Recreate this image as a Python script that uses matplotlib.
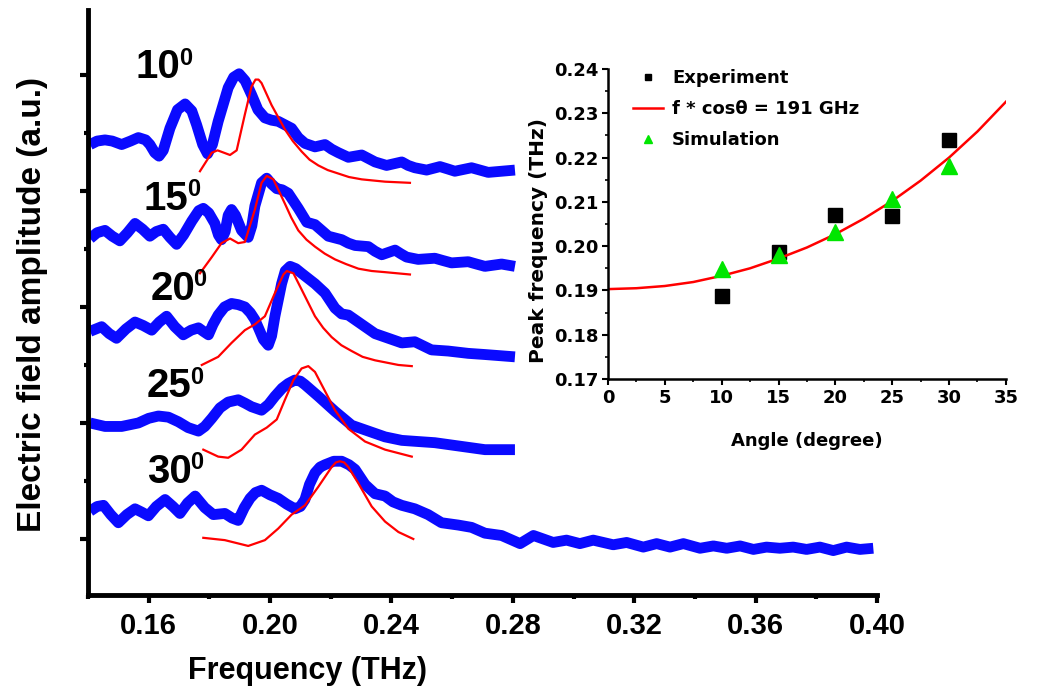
import matplotlib
matplotlib.use("Agg")
import matplotlib.pyplot as plt
from matplotlib.ticker import MultipleLocator, FormatStrFormatter

plt.rcParams['font.family'] = ['Liberation Sans', 'DejaVu Sans']

##################################### measured spectra (frequency in THz, amplitude in a.u. incl. offset)
f10 = [0.1407, 0.1430, 0.1456, 0.1480, 0.1511, 0.1540, 0.1566, 0.1590, 0.1604, 0.1620, 0.1634,
       0.1648, 0.1670, 0.1695, 0.1720, 0.1742, 0.1758, 0.1778, 0.1794, 0.1810, 0.1829, 0.1862,
       0.1880, 0.1898, 0.1918, 0.1939, 0.1960, 0.1983, 0.2005, 0.2027, 0.2049, 0.2071, 0.2093,
       0.2115, 0.2148, 0.2181, 0.2203, 0.2225, 0.2258, 0.2302, 0.2324, 0.2346, 0.2384, 0.2434,
       0.2455, 0.2477, 0.2516, 0.2560, 0.2585, 0.2609, 0.2664, 0.2719, 0.2807]
a10 = [4.40, 4.43, 4.44, 4.43, 4.40, 4.43, 4.46, 4.44, 4.40, 4.33, 4.30,
       4.35, 4.54, 4.70, 4.75, 4.69, 4.57, 4.40, 4.32, 4.40, 4.60, 4.89,
       4.98, 5.01, 4.95, 4.83, 4.70, 4.63, 4.61, 4.60, 4.57, 4.54, 4.46,
       4.41, 4.38, 4.40, 4.36, 4.33, 4.29, 4.31, 4.28, 4.25, 4.22, 4.25,
       4.22, 4.20, 4.18, 4.21, 4.19, 4.17, 4.20, 4.16, 4.18]

f15 = [0.1407, 0.1430, 0.1456, 0.1480, 0.1505, 0.1530, 0.1555, 0.1580, 0.1604, 0.1625, 0.1648,
       0.1670, 0.1692, 0.1715, 0.1742, 0.1765, 0.1780, 0.1798, 0.1818, 0.1830, 0.1840, 0.1852,
       0.1862, 0.1873, 0.1886, 0.1906, 0.1928, 0.1940, 0.1950, 0.1972, 0.1989, 0.2005, 0.2022,
       0.2040, 0.2060, 0.2093, 0.2121, 0.2148, 0.2170, 0.2192, 0.2236, 0.2258, 0.2280, 0.2324,
       0.2346, 0.2368, 0.2412, 0.2430, 0.2450, 0.2488, 0.2543, 0.2570, 0.2598, 0.2653, 0.2680,
       0.2708, 0.2763, 0.2807]
a15 = [3.59, 3.64, 3.66, 3.61, 3.57, 3.64, 3.72, 3.67, 3.61, 3.65, 3.67,
       3.60, 3.54, 3.62, 3.74, 3.83, 3.85, 3.81, 3.72, 3.62, 3.58, 3.65,
       3.79, 3.84, 3.79, 3.66, 3.60, 3.70, 3.87, 4.07, 4.11, 4.06, 4.02,
       4.01, 3.98, 3.85, 3.73, 3.71, 3.66, 3.61, 3.58, 3.55, 3.53, 3.52,
       3.48, 3.45, 3.49, 3.46, 3.43, 3.41, 3.42, 3.40, 3.38, 3.39, 3.37,
       3.35, 3.37, 3.35]

f20 = [0.1407, 0.1445, 0.1470, 0.1494, 0.1525, 0.1555, 0.1582, 0.1610, 0.1635, 0.1659, 0.1686,
       0.1714, 0.1740, 0.1764, 0.1780, 0.1797, 0.1812, 0.1829, 0.1850, 0.1873, 0.1895, 0.1917,
       0.1935, 0.1950, 0.1965, 0.1978, 0.1994, 0.2005, 0.2016, 0.2038, 0.2050, 0.2066, 0.2085,
       0.2104, 0.2148, 0.2181, 0.2214, 0.2236, 0.2258, 0.2302, 0.2346, 0.2390, 0.2434, 0.2477,
       0.2532, 0.2587, 0.2653, 0.2708, 0.2807]
a20 = [2.79, 2.83, 2.77, 2.73, 2.81, 2.87, 2.84, 2.80, 2.87, 2.92, 2.83,
       2.76, 2.80, 2.82, 2.79, 2.76, 2.85, 2.93, 3.00, 3.03, 3.02, 3.00,
       2.95, 2.89, 2.80, 2.72, 2.67, 2.75, 2.92, 3.20, 3.31, 3.35, 3.33,
       3.29, 3.20, 3.12, 2.99, 2.94, 2.93, 2.85, 2.77, 2.73, 2.69, 2.70,
       2.63, 2.62, 2.60, 2.59, 2.57]

f25 = [0.1407, 0.1456, 0.1511, 0.1566, 0.1600, 0.1632, 0.1665, 0.1698, 0.1730, 0.1764, 0.1785,
       0.1808, 0.1835, 0.1862, 0.1895, 0.1918, 0.1939, 0.1972, 0.1995, 0.2016, 0.2040, 0.2060,
       0.2082, 0.2100, 0.2115, 0.2159, 0.2214, 0.2269, 0.2324, 0.2379, 0.2434, 0.2488, 0.2543,
       0.2598, 0.2653, 0.2708, 0.2807]
a25 = [2.00, 1.97, 1.97, 2.00, 2.04, 2.06, 2.05, 2.01, 1.96, 1.93, 1.97,
       2.04, 2.13, 2.18, 2.20, 2.17, 2.14, 2.11, 2.16, 2.23, 2.30, 2.34,
       2.37, 2.36, 2.33, 2.23, 2.10, 1.98, 1.93, 1.88, 1.85, 1.84, 1.83,
       1.81, 1.79, 1.77, 1.77]

f30 = [0.1407, 0.1430, 0.1451, 0.1475, 0.1500, 0.1528, 0.1555, 0.1578, 0.1599, 0.1625, 0.1654,
       0.1680, 0.1703, 0.1728, 0.1753, 0.1785, 0.1813, 0.1851, 0.1875, 0.1895, 0.1915, 0.1934,
       0.1952, 0.1972, 0.2000, 0.2027, 0.2055, 0.2082, 0.2100, 0.2115, 0.2130, 0.2148, 0.2165,
       0.2181, 0.2210, 0.2236, 0.2260, 0.2280, 0.2313, 0.2346, 0.2379, 0.2405, 0.2434, 0.2477,
       0.2521, 0.2565, 0.2620, 0.2664, 0.2708, 0.2763,
       0.2824, 0.2868, 0.2933, 0.2977, 0.3021, 0.3065, 0.3131, 0.3175, 0.3230, 0.3274, 0.3318,
       0.3362, 0.3417, 0.3461, 0.3505, 0.3549, 0.3593, 0.3636, 0.3680, 0.3724, 0.3768, 0.3812,
       0.3856, 0.3900, 0.3944, 0.3988]
a30 = [1.24, 1.28, 1.29, 1.21, 1.14, 1.21, 1.26, 1.23, 1.20, 1.28, 1.34,
       1.28, 1.22, 1.31, 1.37, 1.27, 1.21, 1.22, 1.18, 1.16, 1.27, 1.35,
       1.40, 1.42, 1.38, 1.35, 1.30, 1.26, 1.28, 1.34, 1.47, 1.57, 1.62,
       1.64, 1.67, 1.67, 1.64, 1.60, 1.47, 1.39, 1.37, 1.32, 1.29, 1.26,
       1.21, 1.14, 1.12, 1.10, 1.05, 1.03,
       0.96, 1.03, 0.97, 0.99, 0.96, 0.99, 0.95, 0.97, 0.93, 0.96, 0.93,
       0.96, 0.92, 0.94, 0.92, 0.94, 0.91, 0.93, 0.92, 0.93, 0.91, 0.93,
       0.90, 0.93, 0.91, 0.92]

##################################### simulated spectra (red)
fr10 = [0.1769, 0.1808, 0.1827, 0.1868, 0.1890, 0.1917, 0.1939, 0.1952, 0.1962, 0.1972, 0.2005,
        0.2049, 0.2075, 0.2104, 0.2130, 0.2159, 0.2190, 0.2225, 0.2260, 0.2302, 0.2340, 0.2379,
        0.2461]
ar10 = [4.17, 4.33, 4.35, 4.31, 4.35, 4.66, 4.90, 4.96, 4.96, 4.93, 4.74,
        4.53, 4.43, 4.34, 4.27, 4.22, 4.18, 4.15, 4.12, 4.10, 4.09, 4.08,
        4.07]
fr15 = [0.1769, 0.1808, 0.1840, 0.1868, 0.1895, 0.1917, 0.1950, 0.1972, 0.1989, 0.2011, 0.2049,
        0.2070, 0.2093, 0.2120, 0.2148, 0.2180, 0.2214, 0.2250, 0.2291, 0.2335, 0.2379, 0.2461]
ar15 = [3.29, 3.43, 3.55, 3.59, 3.55, 3.56, 3.84, 4.07, 4.13, 4.10, 3.89,
        3.77, 3.66, 3.58, 3.52, 3.46, 3.41, 3.37, 3.33, 3.31, 3.30, 3.28]
fr20 = [0.1775, 0.1829, 0.1873, 0.1917, 0.1950, 0.1983, 0.2016, 0.2044, 0.2055, 0.2077, 0.2104,
        0.2148, 0.2175, 0.2203, 0.2235, 0.2269, 0.2305, 0.2346, 0.2423, 0.2467]
ar20 = [2.50, 2.57, 2.69, 2.80, 2.85, 2.92, 3.12, 3.28, 3.31, 3.29, 3.15,
        2.92, 2.82, 2.74, 2.67, 2.62, 2.57, 2.54, 2.50, 2.49]
fr25 = [0.1780, 0.1829, 0.1862, 0.1906, 0.1950, 0.1989, 0.2022, 0.2049, 0.2077, 0.2104, 0.2126,
        0.2148, 0.2176, 0.2214, 0.2258, 0.2313, 0.2379, 0.2467]
ar25 = [1.77, 1.71, 1.70, 1.77, 1.90, 1.96, 2.03, 2.20, 2.37, 2.47, 2.49,
        2.44, 2.30, 2.11, 1.95, 1.84, 1.77, 1.71]
fr30 = [0.1780, 0.1851, 0.1928, 0.1983, 0.2027, 0.2071, 0.2115, 0.2159, 0.2203, 0.2217, 0.2230,
        0.2244, 0.2258, 0.2291, 0.2335, 0.2379, 0.2423, 0.2472]
ar30 = [1.01, 0.99, 0.94, 0.99, 1.09, 1.21, 1.29, 1.45, 1.62, 1.66, 1.67,
        1.66, 1.62, 1.48, 1.28, 1.15, 1.06, 1.00]

angle_labels = ['10', '15', '20', '25', '30']
label_f = [0.1558, 0.1584, 0.1606, 0.1594, 0.1594]
label_a = [4.97, 3.84, 3.06, 2.22, 1.48]

##################################### inset data
angle = [10, 15, 20, 25, 30]
exp_peak = [0.1887, 0.1987, 0.2071, 0.2067, 0.2239]
sim_peak = [0.1948, 0.1981, 0.2031, 0.2106, 0.2180]
fit_angle = [0, 2.5, 5, 7.5, 10, 12.5, 15, 17.5, 20, 22.5, 25, 27.5, 30, 32.5, 35]
fit_freq = [0.1903, 0.1905, 0.1910, 0.1919, 0.1933, 0.1950, 0.1972, 0.1997, 0.2027, 0.2062,
            0.2102, 0.2148, 0.2200, 0.2259, 0.2326]

#####################################
fig = plt.figure(figsize=(10.5, 6.93), dpi=100)
ax = fig.add_axes([0.0838, 0.1414, 0.7514, 0.8442])

blue = '#0a0aff'
for f, a in [(f10, a10), (f15, a15), (f20, a20), (f25, a25), (f30, a30)]:
    ax.plot(f, a, color=blue, lw=7.8, solid_joinstyle='round', solid_capstyle='butt')
for f, a in [(fr10, ar10), (fr15, ar15), (fr20, ar20), (fr25, ar25), (fr30, ar30)]:
    ax.plot(f, a, color='#ff0000', lw=1.6, solid_joinstyle='round')

for lab, x, y in zip(angle_labels, label_f, label_a):
    ax.text(x, y, lab, fontsize=29, fontweight='bold', ha='left', va='baseline')
    ax.annotate('0', xy=(x, y), xytext=(31, 10), textcoords='offset points',
                fontsize=17, fontweight='bold', ha='left', va='baseline')

ax.set_xlim(0.14, 0.40)
ax.set_ylim(0.517, 5.56)
ax.set_xticks([0.16, 0.20, 0.24, 0.28, 0.32, 0.36, 0.40])
ax.set_xticks([0.14, 0.18, 0.22, 0.26, 0.30, 0.34, 0.38], minor=True)
ax.xaxis.set_major_formatter(FormatStrFormatter('%.2f'))
ax.set_yticks([1, 2, 3, 4, 5])
ax.set_yticks([1.5, 2.5, 3.5, 4.5], minor=True)
ax.set_yticklabels([])
for s in ['top', 'right']:
    ax.spines[s].set_visible(False)
for s in ['left', 'bottom']:
    ax.spines[s].set_linewidth(3.5)
ax.tick_params(which='major', direction='out', length=6, width=3, labelsize=21, pad=6)
ax.tick_params(which='minor', direction='out', length=3, width=3)
for t in ax.get_xticklabels():
    t.set_fontweight('bold')
ax.set_xlabel('Frequency (THz)', fontsize=22, fontweight='bold')
ax.xaxis.set_label_coords(0.278, -0.104)
ax.set_ylabel('Electric field amplitude (a.u.)', fontsize=24, fontweight='bold')
ax.yaxis.set_label_coords(-0.051, 0.497)

##################################### inset (DejaVu bold, wider letters as in the original)
inset_font = 'DejaVu Sans'
ax2 = fig.add_axes([0.5790, 0.4531, 0.3790, 0.4473])
ax2.patch.set_alpha(0)
ax2.plot(angle, exp_peak, 's', color='black', ms=9.5, label='Experiment')
ax2.plot(fit_angle, fit_freq, '-', color='#ff0000', lw=1.8, label='f * cos\u03b8 = 191 GHz')
ax2.plot(angle, sim_peak, '^', color='#00e600', ms=11, label='Simulation')
ax2.set_xlim(0, 35)
ax2.set_ylim(0.17, 0.24)
ax2.xaxis.set_major_locator(MultipleLocator(5))
ax2.xaxis.set_minor_locator(MultipleLocator(2.5))
ax2.yaxis.set_major_locator(MultipleLocator(0.01))
ax2.yaxis.set_minor_locator(MultipleLocator(0.005))
ax2.yaxis.set_major_formatter(FormatStrFormatter('%.2f'))
for s in ['top', 'right']:
    ax2.spines[s].set_visible(False)
for s in ['left', 'bottom']:
    ax2.spines[s].set_linewidth(1.8)
ax2.tick_params(which='major', direction='out', length=4, width=1.5, labelsize=13, pad=3)
ax2.tick_params(which='minor', direction='out', length=2, width=1.2)
for t in ax2.get_xticklabels() + ax2.get_yticklabels():
    t.set_fontweight('bold')
    t.set_family(inset_font)
ax2.set_xlabel('Angle (degree)', fontsize=13, fontweight='bold', family=inset_font)
ax2.xaxis.set_label_coords(0.5, -0.172)
ax2.set_ylabel('Peak frequency (THz)', fontsize=14.5, fontweight='bold', family=inset_font)
ax2.yaxis.set_label_coords(-0.151, 0.448)
leg = ax2.legend(loc='upper left', bbox_to_anchor=(0.063, 1.0), frameon=False, borderpad=0,
                 borderaxespad=0, markerscale=0.5, handlelength=1.66, handletextpad=0.5,
                 labelspacing=0.72, prop={'weight': 'bold', 'size': 13, 'family': inset_font})

plt.savefig("out.png", dpi=100)
